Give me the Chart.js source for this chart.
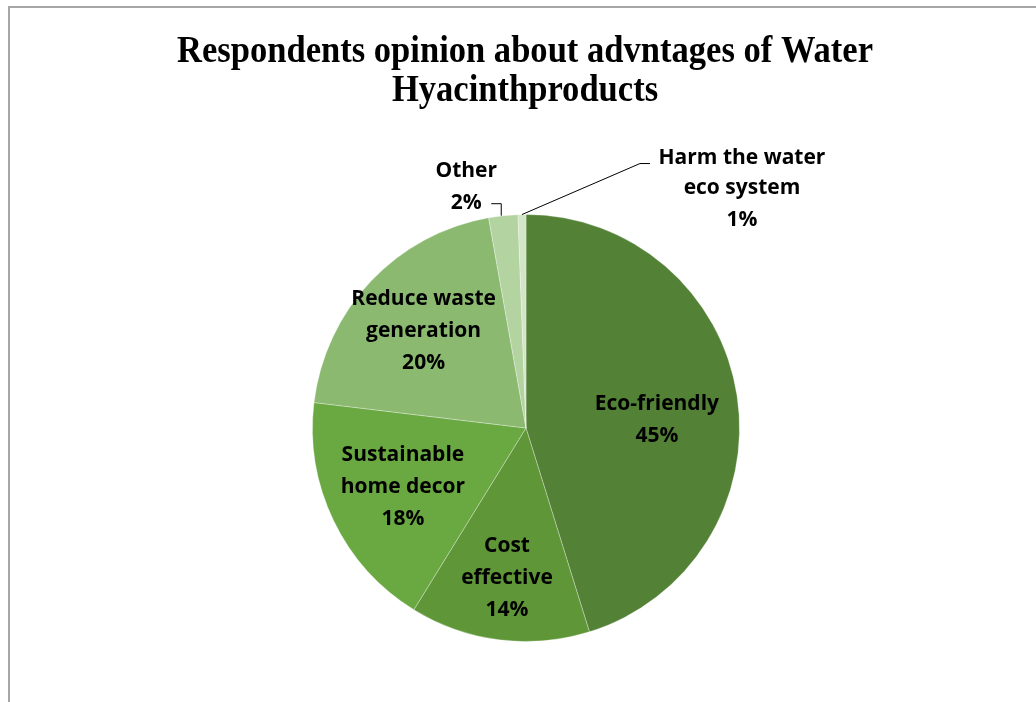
<!DOCTYPE html>
<html>
<head>
<meta charset="utf-8">
<script src="https://cdn.jsdelivr.net/npm/chart.js@4.4.0/dist/chart.umd.min.js"></script>
<style>
  html, body { margin: 0; padding: 0; background: #fff; }
  #frame {
    position: absolute; left: 8px; top: 6px; width: 1040px; height: 710px;
    border-left: 2px solid #a6a6a6; border-top: 2px solid #a6a6a6;
  }
  #wrap { position: absolute; left: 0; top: 0; width: 1036px; height: 702px; }
</style>
</head>
<body>
<div id="frame"></div>
<div id="wrap"><canvas id="chart" width="1036" height="702"></canvas></div>
<script>
// data
const categories = ['Eco-friendly', 'Cost effective', 'Sustainable home decor', 'Reduce waste generation', 'Other', 'Harm the water eco system'];
const shares = [45.2, 13.6, 18.1, 20.3, 2.2, 0.6];
const labelLines = [
    ['Eco-friendly'],
    ['Cost', 'effective'],
    ['Sustainable', 'home decor'],
    ['Reduce waste', 'generation'],
    ['Other'],
    ['Harm the water', 'eco system']
];
const titleLines = ['Respondents opinion about advntages of Water', 'Hyacinthproducts'];

const sliceColors = ['#538135', '#5f9638', '#6aa841', '#8bb970', '#b3d3a0', '#d2e5c6'];

// label placement: fraction of radius along mid angle + nudge
const inside = [
    { frac: 0.62, dx: 0, dy: 12 },
    { frac: 0.71, dx: 0, dy: 0 },
    { frac: 0.64, dx: 0, dy: 0 },
    { frac: 0.66, dx: 0, dy: 0 },
    null,
    null
];

const labelPlugin = {
    id: 'pieLabels',
    afterDatasetsDraw(chart) {
        const ctx = chart.ctx;
        const meta = chart.getDatasetMeta(0);
        const total = shares.reduce((a, b) => a + b, 0);
        const lh = 32;
        ctx.save();
        ctx.font = 'bold 21px "Open Sans"';
        ctx.fillStyle = '#000';
        ctx.textAlign = 'center';
        ctx.textBaseline = 'middle';
        meta.data.forEach((arc, i) => {
            const p = arc.getProps(['x', 'y', 'startAngle', 'endAngle', 'outerRadius'], true);
            const mid = (p.startAngle + p.endAngle) / 2;
            const pct = Math.round(shares[i] / total * 100) + '%';
            const lines = labelLines[i].concat([pct]);
            if (inside[i]) {
                const r = p.outerRadius * inside[i].frac;
                const cx = p.x + Math.cos(mid) * r + inside[i].dx;
                const cy = p.y + Math.sin(mid) * r + inside[i].dy;
                const y0 = cy - (lines.length - 1) * lh / 2;
                lines.forEach((t, k) => ctx.fillText(t, cx, y0 + k * lh));
                return;
            }
            // outside labels with leader lines
            const ex = p.x + Math.cos(mid) * p.outerRadius;
            const ey = p.y + Math.sin(mid) * p.outerRadius;
            ctx.strokeStyle = '#000';
            ctx.lineWidth = 1;
            ctx.beginPath();
            if (i === 4) {
                ctx.moveTo(ex - 2, ey);
                ctx.lineTo(ex - 2, ey - 12);
                ctx.lineTo(ex - 12, ey - 12);
                ctx.stroke();
                ctx.fillText(lines[0], ex - 37, ey - 45);
                ctx.fillText(lines[1], ex - 37, ey - 13);
            } else {
                ctx.moveTo(ex, ey);
                ctx.lineTo(ex + 118, ey - 51);
                ctx.lineTo(ex + 128, ey - 51);
                ctx.stroke();
                ctx.fillText(lines[0], ex + 220, ey - 57);
                ctx.fillText(lines[1], ex + 220, ey - 27);
                ctx.fillText(lines[2], ex + 220, ey + 5);
            }
        });
        ctx.restore();
    },
    afterDraw(chart) {
        const ctx = chart.ctx;
        ctx.save();
        ctx.font = 'bold 38px "Liberation Serif"';
        ctx.fillStyle = '#000';
        ctx.textAlign = 'center';
        ctx.textBaseline = 'alphabetic';
        const w = ctx.measureText(titleLines[0]).width;
        const sx = 696 / w;
        ctx.translate(525, 0);
        ctx.scale(sx, 1);
        ctx.fillText(titleLines[0], 0, 62);
        ctx.fillText(titleLines[1], 0, 101);
        ctx.restore();
    }
};

new Chart(document.getElementById('chart'), {
    type: 'pie',
    data: {
        labels: categories,
        datasets: [{
            data: shares,
            backgroundColor: sliceColors,
            borderColor: 'rgba(255,255,255,0.3)',
            borderWidth: 1
        }]
    },
    options: {
        responsive: false,
        animation: false,
        layout: { padding: { left: 312, right: 296, top: 214, bottom: 60 } },
        plugins: {
            legend: { display: false },
            tooltip: { enabled: false },
            title: { display: false }
        }
    },
    plugins: [labelPlugin]
});
</script>
</body>
</html>
